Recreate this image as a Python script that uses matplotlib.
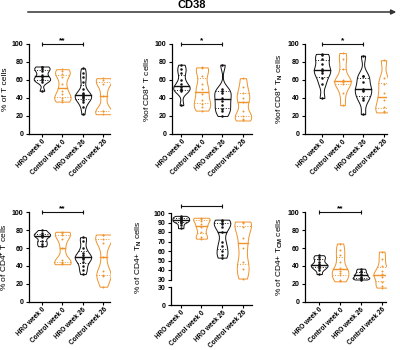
"""
Violin plots of T cell subsets (CD38) for HRO vs control, week 0 and week 26.
"""
import numpy as np
import matplotlib.pyplot as plt
from matplotlib.patches import FancyArrowPatch

plt.rcParams['font.family'] = ['Liberation Sans', 'DejaVu Sans']
plt.rcParams['font.weight'] = 'bold'
plt.rcParams['mathtext.fontset'] = 'custom'
plt.rcParams['mathtext.rm'] = 'Liberation Sans:bold'
plt.rcParams['mathtext.it'] = 'Liberation Sans:bold'
plt.rcParams['mathtext.bf'] = 'Liberation Sans:bold'
plt.rcParams['mathtext.default'] = 'rm'

W, H = 400, 350
BLACK = '#111111'
ORANGE = '#F0932B'

groups = ['HRO week 0', 'Control week 0', 'HRO week 26', 'Control week 26']
group_colors = [BLACK, ORANGE, BLACK, ORANGE]

# ── Data ─────────────────────────────────────────────────────────────────────
t_cells = [
    [48, 58, 60, 61, 63, 66, 70, 72, 74, 75],
    [36, 38, 40, 44, 48, 55, 63, 67, 70, 72],
    [22, 30, 35, 38, 40, 41, 42, 43, 44, 45, 50, 58, 63, 68, 73],
    [22, 25, 26, 42, 55, 60, 62],
]
cd8_t = [
    [32, 48, 49, 50, 52, 55, 60, 68, 72, 77],
    [26, 30, 33, 38, 44, 50, 55, 65, 73, 74],
    [20, 25, 28, 32, 37, 40, 45, 48, 50, 77],
    [15, 17, 20, 25, 35, 40, 45, 52, 62],
]
cd8_tn = [
    [40, 55, 62, 68, 70, 72, 78, 83, 88, 89],
    [32, 45, 55, 58, 59, 60, 72, 83, 90],
    [22, 38, 40, 48, 49, 50, 58, 64, 65, 87],
    [24, 26, 30, 38, 45, 55, 62, 82],
]
cd4_t = [
    [62, 65, 68, 72, 74, 75, 77, 80],
    [42, 43, 45, 47, 60, 70, 75, 77, 78],
    [31, 36, 40, 45, 48, 49, 50, 52, 55, 60, 68, 72],
    [17, 29, 30, 34, 50, 66, 70, 74, 75],
]
cd4_tn = [
    [84, 87, 90, 91, 92, 93, 94, 95, 96, 97],
    [73, 75, 80, 85, 88, 92, 94, 95],
    [53, 56, 60, 65, 70, 80, 85, 88, 90, 92, 93],
    [31, 41, 48, 63, 74, 85, 90, 91],
]
cd4_tcm = [
    [31, 36, 38, 40, 41, 42, 45, 48, 50, 52],
    [23, 25, 30, 32, 35, 38, 45, 52, 58, 65],
    [25, 26, 27, 28, 30, 31, 33, 35, 37],
    [16, 18, 22, 28, 30, 31, 35, 40, 48, 56],
]


def px_axes(fig, x0, y0, x1, y1):
    """Axes from pixel box (left, top, right, bottom)."""
    return fig.add_axes([x0 / W, 1 - y1 / H, (x1 - x0) / W, (y1 - y0) / H])


def style_axes(ax):
    for s in ['top', 'right']:
        ax.spines[s].set_visible(False)
    for s in ['left', 'bottom']:
        ax.spines[s].set_linewidth(0.9)
    ax.tick_params(length=2.5, width=0.8, labelsize=5, pad=1.5)
    ax.tick_params(axis='x', pad=0.5)


def set_group_ticks(ax):
    ax.set_xticks(range(len(groups)))
    ax.set_xticklabels(groups, rotation=45, ha='right', va='top',
                       rotation_mode='anchor', fontsize=4.7)


def width_at(verts, pos, y):
    right = verts[verts[:, 0] > pos + 1e-9]
    order = np.argsort(right[:, 1])
    return np.interp(y, right[order, 1], right[order, 0]) - pos


def draw_violins(ax, data):
    parts = ax.violinplot(data, positions=range(len(data)), widths=0.8,
                          bw_method=0.35, showextrema=False)
    for i, (body, c, vals) in enumerate(zip(parts['bodies'], group_colors, data)):
        body.set_facecolor('white')
        body.set_edgecolor(c)
        body.set_alpha(1)
        body.set_linewidth(0.7)
        verts = body.get_paths()[0].vertices
        q1, med, q3 = np.percentile(vals, [25, 50, 75])
        for q, ls, lw in [(q1, ':', 0.7), (q3, ':', 0.7), (med, '-', 1.0)]:
            hw = width_at(verts, i, q)
            ax.plot([i - hw, i + hw], [q, q], ls=ls, lw=lw, color=c, zorder=3)
        ms = 1.8 if c == BLACK else 1.4
        ax.plot(np.full(len(vals), i), vals, 'o', ms=ms, color=c, mew=0, zorder=4)


def draw_bracket(ax, y, stars):
    ax.plot([0, 2], [y, y], color=BLACK, lw=0.8, marker='|', ms=3.5,
            mew=0.8, clip_on=False)
    ax.annotate(stars, (1, y), xytext=(0, -0.5), textcoords='offset points',
                ha='center', va='bottom', fontsize=6, clip_on=False)


fig = plt.figure(figsize=(W / 100, H / 100), dpi=100)

# CD38 arrow across the top
fig.add_artist(FancyArrowPatch((25 / W, 1 - 12 / H), (399 / W, 1 - 12 / H),
                               transform=fig.transFigure, arrowstyle='-|>',
                               mutation_scale=7, lw=1.1, color='#333333'))
fig.text(192 / W, 1 - 5 / H, 'CD38', ha='center', va='center', fontsize=8)

panels = [
    (t_cells, '% of T cells', '*' * 2, (29, 44, 110, 134), (-0.63, 3.32)),
    (cd8_t, '%of CD8$^{+}$ T cells', '*', (172, 44, 252, 134), (-0.46, 3.44)),
    (cd8_tn, '%of CD8$^{+}$ T$_{N}$ cells', '*', (305, 44, 387, 134), (-0.83, 3.17)),
    (cd4_t, '% of CD4$^{+}$ T cells', '*' * 2, (29, 212, 110, 302), (-0.63, 3.32)),
    (cd4_tcm, '% of CD4+ T$_{CM}$ cells', '*' * 2, (305, 212, 386, 302), (-0.68, 3.2)),
]

for data, ylabel, stars, box, xlim in panels:
    ax = px_axes(fig, *box)
    style_axes(ax)
    draw_violins(ax, data)
    ax.set_xlim(*xlim)
    ax.set_ylim(0, 100)
    ax.set_yticks(range(0, 101, 20))
    set_group_ticks(ax)
    ax.set_ylabel(ylabel, fontsize=6, labelpad=2)
    draw_bracket(ax, 100, stars)

# CD4 T_N panel with broken y axis
ax_top = px_axes(fig, 171, 213, 252, 279.5)
ax_bot = px_axes(fig, 171, 287, 252, 305)
style_axes(ax_top)
style_axes(ax_bot)
draw_violins(ax_top, cd4_tn)
ax_top.set_xlim(-0.47, 3.45)
ax_top.set_ylim(30, 100)
ax_top.set_yticks(range(30, 101, 10))
ax_top.spines['bottom'].set_visible(False)
ax_top.set_xticks([])
ax_top.set_ylabel('% of CD4+ T$_{N}$ cells', fontsize=6)
ax_top.yaxis.set_label_coords(-0.33, 0.34)
draw_bracket(ax_top, 107, '*' * 2)

ax_bot.set_xlim(-0.47, 3.45)
ax_bot.set_ylim(0, 30)
ax_bot.set_yticks([0, 30])
set_group_ticks(ax_bot)

plt.savefig('out.png', dpi=100)
plt.close()
